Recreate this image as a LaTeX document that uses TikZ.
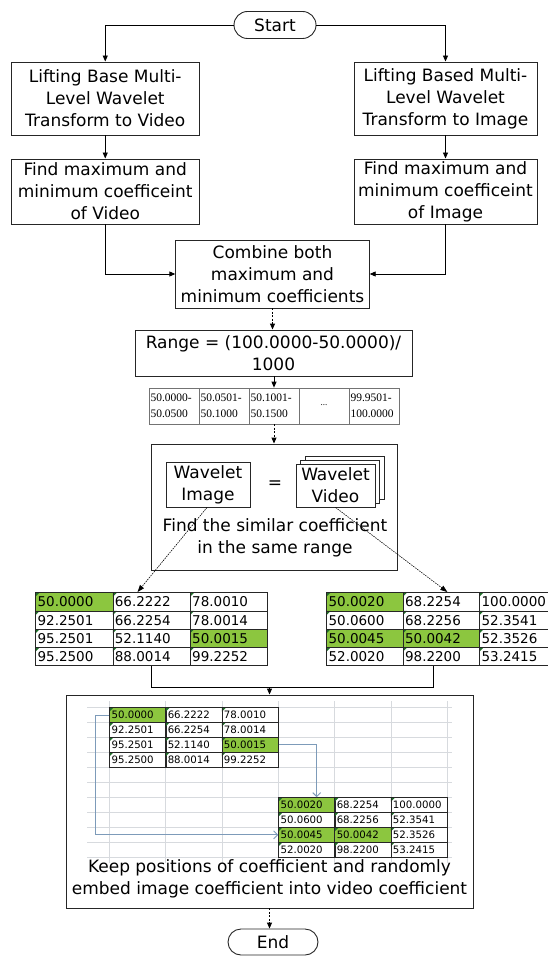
\documentclass[tikz,border=0pt]{standalone}
\usepackage{fontspec}
\setmainfont{DejaVu Sans}
\newfontfamily\rngfont{Liberation Serif}
\usetikzlibrary{shapes.misc,arrows.meta,matrix}
\definecolor{xlgreen}{RGB}{140,198,63}
\definecolor{xltri}{RGB}{30,110,40}
\definecolor{gridc}{RGB}{215,218,222}
\definecolor{bluearr}{RGB}{125,155,185}
\newcommand\fbig{\fontsize{17}{22}\selectfont}
\newcommand\fcell{\fontsize{13.5}{16}\selectfont}
\newcommand\fsmall{\fontsize{10.2}{12}\selectfont}
\newcommand\frng{\rngfont\fontsize{11.5}{16.5}\selectfont}
\begin{document}
\begin{tikzpicture}[x=1pt,y=-1pt,
  box/.style={draw=black!85,line width=0.9pt,align=center,inner sep=0pt,font=\fbig},
  pill/.style={box,rounded rectangle},
  arr/.style={line width=0.9pt,-{Triangle[length=6pt,width=5pt]}},
  darr/.style={arr,dash pattern=on 2pt off 1.5pt},
  tarr/.style={line width=0.6pt,dash pattern=on 1.5pt off 1pt,-{Triangle[length=7pt,width=5pt]}},
  barr/.style={draw=bluearr,line width=0.9pt,-{Straight Barb[length=4pt,width=8pt]}},
  excel/.style={path picture={\fill[xltri] (path picture bounding box.north west) -- ++(4pt,0pt) -- ++(-4pt,-4pt) -- cycle;}},
  bigcell/.style={draw=black!85,line width=0.8pt,font=\fcell,text width=73.3pt,inner xsep=2pt,inner ysep=0pt,
    minimum height=18.3pt,align=left,text height=10pt,text depth=0pt,excel},
  rcell/.style={draw=black!85,line width=0.8pt,font=\fcell,text width=72.5pt,inner xsep=2pt,inner ysep=0pt,
    minimum height=18.3pt,align=left,text height=10pt,text depth=0pt,excel},
  smcell/.style={draw=black!85,line width=0.7pt,font=\fsmall,text width=52.3pt,inner xsep=2pt,inner ysep=0pt,
    minimum height=15pt,align=left,text height=7.5pt,text depth=0pt,excel},
  gcell/.style={fill=xlgreen},
  rngcell/.style={draw=black!55,line width=0.7pt,font=\frng,text width=47pt,inner xsep=1.5pt,inner ysep=0pt,
    minimum height=36pt,align=left},
  tab/.style={matrix of nodes,inner sep=0pt,column sep=-0.8pt,row sep=-0.8pt}
]
\useasboundingbox (0,0) rectangle (548,957);

% top part
\node[pill,minimum width=82pt,minimum height=27pt] (start) at (275,25) {Start};
\node[box,minimum width=187.5pt,minimum height=73pt] (lb1) at (105.25,98.5) {Lifting Base Multi-\\Level Wavelet\\Transform to Video};
\node[box,minimum width=183pt,minimum height=73pt] (rb1) at (445.5,98.5) {Lifting Based Multi-\\Level Wavelet\\Transform to Image};
\node[box,minimum width=187.5pt,minimum height=65pt] (lb2) at (105.25,191.5) {Find maximum and\\minimum coefficeint\\of Video};
\node[box,minimum width=183pt,minimum height=65pt] (rb2) at (445.5,191.5) {Find maximum and\\minimum coefficeint\\of Image};
\node[box,minimum width=193.5pt,minimum height=68pt] (comb) at (272.5,274) {Combine both\\maximum and\\minimum coefficients};
\node[box,minimum width=277pt,minimum height=46pt] (range) at (273.5,353) {Range = (100.0000-50.0000)/\\1000};

% range table
\node[rngcell] (rc0) at (174,406) {50.0000-\\50.0500};
\node[rngcell] (rc1) at (224,406) {50.0501-\\50.1000};
\node[rngcell] (rc2) at (274,406) {50.1001-\\50.1500};
\node[rngcell,align=center] (rc3) at (324,406) {{\fontsize{9}{9}\selectfont\raisebox{1pt}{...}}};
\node[rngcell] (rc4) at (374,406) {99.9501-\\100.0000};

% similarity box
\node[box,minimum width=246pt,minimum height=126pt] (sim) at (274,507) {};
\node[box,fill=white,minimum width=79pt,minimum height=43pt] (wvid3) at (344.5,477.5) {};
\node[box,fill=white,minimum width=79pt,minimum height=43pt] (wvid2) at (340,481.5) {};
\node[box,fill=white,minimum width=79pt,minimum height=43pt] (wvid) at (335.5,485.5) {Wavelet\\Video};
\node[box,minimum width=84pt,minimum height=45pt] (wimg) at (208,484.5) {Wavelet\\Image};
\node[font=\fbig] (eq) at (275,485) {=};
\node[font=\fbig,align=center] (simtxt) at (275,538) {Find the similar coefficient\\in the same range};

% result tables
\matrix (ltab) [tab,nodes={bigcell},anchor=north west] at (35,592) {
 |[gcell]| 50.0000 & 66.2222 & 78.0010 \\
 92.2501 & 66.2254 & 78.0014 \\
 95.2501 & 52.1140 & |[gcell]| 50.0015 \\
 95.2500 & 88.0014 & 99.2252 \\
};
\matrix (rtab) [tab,nodes={rcell},anchor=north west] at (326,592) {
 |[gcell]| 50.0020 & 68.2254 & 100.0000 \\
 50.0600 & 68.2256 & 52.3541 \\
 |[gcell]| 50.0045 & |[gcell]| 50.0042 & 52.3526 \\
 52.0020 & 98.2200 & 53.2415 \\
};

% embed box
\node[box,minimum width=407pt,minimum height=213pt] (emb) at (269.5,801.5) {};
\foreach \yy in {707,722,...,857} \draw[gridc,line width=0.8pt] (87,\yy) -- (452,\yy);
\foreach \xx in {109,165.5,222,278,334,391,447} \draw[gridc,line width=0.8pt] (\xx,701) -- (\xx,863);
\matrix (tA) [tab,nodes={smcell},anchor=north west] at (109,707) {
 |[gcell]| 50.0000 & 66.2222 & 78.0010 \\
 92.2501 & 66.2254 & 78.0014 \\
 95.2501 & 52.1140 & |[gcell]| 50.0015 \\
 95.2500 & 88.0014 & 99.2252 \\
};
\matrix (tB) [tab,nodes={smcell},anchor=north west] at (278,797) {
 |[gcell]| 50.0020 & 68.2254 & 100.0000 \\
 50.0600 & 68.2256 & 52.3541 \\
 |[gcell]| 50.0045 & |[gcell]| 50.0042 & 52.3526 \\
 52.0020 & 98.2200 & 53.2415 \\
};
\node[font=\fbig,align=center] (embtxt) at (269.5,879) {Keep positions of coefficient and randomly\\embed image coefficient into video coefficient};
\node[pill,minimum width=90pt,minimum height=26pt] (end) at (273,942) {End};

% connectors
\draw[arr] (start.west) -| (lb1.north);
\draw[arr] (start.east) -| (rb1.north);
\draw[arr] (lb1) -- (lb2);
\draw[arr] (rb1) -- (rb2);
\draw[arr] (lb2.south) |- (comb.west);
\draw[arr] (rb2.south) |- (comb.east);
\draw[darr] (comb.south) -- (comb.south |- range.north);
\draw[arr] (rc2.north |- range.south) -- (rc2.north);
\draw[darr] (rc2.south) -- (sim.north);
\draw[tarr] ([xshift=-1pt]wimg.south) -- ([xshift=-14pt]ltab.north);
\draw[tarr] (wvid.south) -- ([xshift=6pt]rtab.north);
\coordinate (join) at (269.5,687);
\draw[line width=0.9pt] (ltab.south) |- (join);
\draw[line width=0.9pt] ([xshift=-8pt]rtab.south) |- (join);
\draw[arr] (join) -- (emb.north);
\draw[barr] (tA-3-3.east) -| ([xshift=10pt]tB-1-1.north);
\draw[barr] (tA-1-1.west) -- ++(-14,0) |- (tB-3-1.west);
\draw[darr] (emb.south) -- (emb.south |- end.north);
\end{tikzpicture}
\end{document}
